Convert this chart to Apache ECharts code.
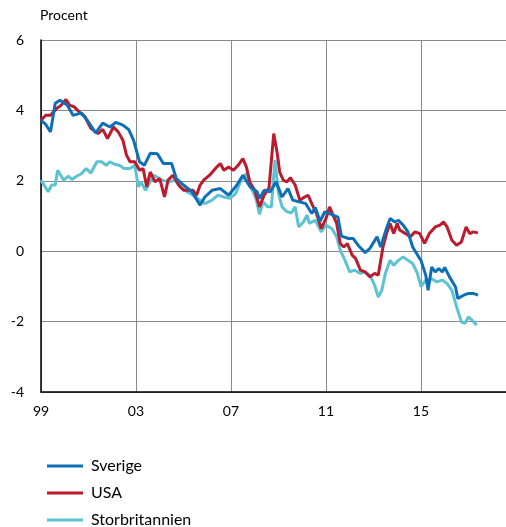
<!DOCTYPE html>
<html>
<head>
<meta charset="utf-8">
<script src="https://cdn.jsdelivr.net/npm/echarts@6/dist/echarts.min.js"></script>
<style>
  html, body { margin: 0; padding: 0; background: #fff; }
  #chart { width: 506px; height: 527px; }
</style>
</head>
<body>
<div id="chart"></div>
<script>
(function() {
    'use strict';

    // data (decimal year, procent)
    var sverigeYear = [1999.0, 1999.2, 1999.4, 1999.6, 1999.8, 2000.1, 2000.35, 2000.7, 2001.0, 2001.3, 2001.6, 2001.9,
        2002.15, 2002.45, 2002.7, 2002.9, 2003.15, 2003.35, 2003.6, 2003.9, 2004.15, 2004.5, 2004.7, 2005.0,
        2005.35, 2005.7, 2005.9, 2006.2, 2006.55, 2006.9, 2007.25, 2007.5, 2007.8, 2008.1, 2008.2, 2008.4,
        2008.65, 2008.9, 2009.15, 2009.4, 2009.6, 2009.9, 2010.15, 2010.4, 2010.55, 2010.75, 2010.95, 2011.25,
        2011.5, 2011.65, 2011.95, 2012.15, 2012.35, 2012.65, 2012.85, 2013.15, 2013.3, 2013.55, 2013.7, 2013.9,
        2014.05, 2014.25, 2014.45, 2014.65, 2014.9, 2015.0, 2015.2, 2015.3, 2015.45, 2015.6, 2015.75, 2015.9,
        2016.0, 2016.2, 2016.45, 2016.55, 2016.8, 2017.0, 2017.2, 2017.4];
    var sverigeValue = [3.72, 3.6, 3.39, 4.2, 4.29, 4.15, 3.86, 3.93, 3.67, 3.36, 3.64, 3.53,
        3.66, 3.58, 3.45, 3.15, 2.54, 2.44, 2.78, 2.77, 2.49, 2.49, 2.06, 1.88,
        1.69, 1.31, 1.54, 1.73, 1.78, 1.59, 1.88, 2.16, 1.83, 1.69, 1.5, 1.73,
        1.69, 1.97, 1.54, 1.78, 1.45, 1.4, 1.35, 1.07, 1.24, 0.85, 1.12, 1.04,
        0.97, 0.43, 0.36, 0.36, 0.17, -0.04, 0.08, 0.41, 0.12, 0.65, 0.93, 0.83,
        0.88, 0.74, 0.55, 0.12, -0.16, -0.26, -0.68, -1.11, -0.45, -0.59, -0.49, -0.59,
        -0.46, -0.73, -1.01, -1.34, -1.25, -1.2, -1.2, -1.25];

    var usaYear = [1999.0, 1999.2, 1999.4, 1999.65, 1999.85, 2000.05, 2000.2, 2000.4, 2000.6, 2000.85, 2001.1, 2001.4,
        2001.6, 2001.8, 2002.05, 2002.25, 2002.45, 2002.6, 2002.75, 2002.95, 2003.15, 2003.3, 2003.45, 2003.6,
        2003.8, 2004.0, 2004.2, 2004.35, 2004.55, 2004.8, 2005.0, 2005.2, 2005.4, 2005.55, 2005.7, 2005.85,
        2006.1, 2006.4, 2006.55, 2006.7, 2006.9, 2007.1, 2007.3, 2007.5, 2007.65, 2007.8, 2008.0, 2008.2,
        2008.4, 2008.6, 2008.8, 2008.95, 2009.05, 2009.2, 2009.35, 2009.5, 2009.7, 2009.9, 2010.1, 2010.25,
        2010.4, 2010.6, 2010.8, 2011.0, 2011.15, 2011.3, 2011.45, 2011.6, 2011.75, 2011.9, 2012.1, 2012.25,
        2012.45, 2012.65, 2012.85, 2013.05, 2013.2, 2013.4, 2013.55, 2013.7, 2013.85, 2014.0, 2014.1, 2014.35,
        2014.55, 2014.75, 2014.95, 2015.15, 2015.35, 2015.6, 2015.8, 2015.95, 2016.1, 2016.3, 2016.5, 2016.7,
        2016.9, 2017.05, 2017.2, 2017.4];
    var usaValue = [3.72, 3.86, 3.86, 4.05, 4.15, 4.31, 4.15, 4.1, 3.96, 3.82, 3.49, 3.34,
        3.46, 3.2, 3.53, 3.39, 3.15, 2.73, 2.54, 2.54, 2.3, 2.35, 1.83, 2.25,
        1.97, 2.06, 1.54, 2.02, 2.16, 1.88, 1.73, 1.73, 1.73, 1.59, 1.88, 2.02,
        2.16, 2.39, 2.49, 2.3, 2.39, 2.3, 2.44, 2.63, 2.39, 1.95, 1.73, 1.26,
        1.6, 1.8, 3.34, 2.77, 2.25, 2.02, 1.97, 2.09, 1.88, 1.45, 1.54, 1.59,
        1.35, 1.07, 0.64, 0.93, 1.26, 1.02, 0.79, 0.22, 0.12, 0.22, -0.11, -0.21,
        -0.54, -0.59, -0.73, -0.63, -0.68, 0.12, 0.5, 0.79, 0.5, 0.79, 0.6, 0.5,
        0.41, 0.55, 0.5, 0.22, 0.5, 0.69, 0.74, 0.83, 0.69, 0.31, 0.17, 0.26,
        0.69, 0.5, 0.55, 0.52];

    var ukYear = [1999.0, 1999.3, 1999.45, 1999.6, 1999.7, 1999.95, 2000.15, 2000.3, 2000.5, 2000.7, 2000.9, 2001.1,
        2001.35, 2001.55, 2001.75, 2001.9, 2002.1, 2002.3, 2002.5, 2002.75, 2002.95, 2003.1, 2003.2, 2003.4,
        2003.6, 2003.75, 2003.9, 2004.1, 2004.4, 2004.65, 2004.85, 2005.15, 2005.4, 2005.6, 2005.9, 2006.2,
        2006.45, 2006.7, 2006.95, 2007.2, 2007.45, 2007.65, 2007.85, 2008.05, 2008.2, 2008.35, 2008.55, 2008.7,
        2008.85, 2009.0, 2009.15, 2009.35, 2009.55, 2009.7, 2009.85, 2010.05, 2010.2, 2010.3, 2010.55, 2010.8,
        2011.0, 2011.25, 2011.45, 2011.6, 2011.8, 2012.0, 2012.2, 2012.45, 2012.65, 2012.85, 2013.05, 2013.2,
        2013.35, 2013.5, 2013.7, 2013.85, 2014.05, 2014.25, 2014.45, 2014.65, 2014.85, 2015.0, 2015.2, 2015.45,
        2015.65, 2015.9, 2016.1, 2016.3, 2016.5, 2016.7, 2016.85, 2017.0, 2017.15, 2017.35];
    var ukValue = [2.02, 1.69, 1.88, 1.88, 2.3, 2.02, 2.13, 2.04, 2.13, 2.2, 2.35, 2.22,
        2.54, 2.54, 2.44, 2.54, 2.47, 2.44, 2.35, 2.35, 2.44, 1.83, 1.97, 1.73,
        1.97, 2.16, 2.1, 2.02, 1.97, 2.02, 1.83, 1.69, 1.59, 1.5, 1.35, 1.45,
        1.59, 1.54, 1.5, 1.64, 2.06, 2.2, 1.8, 1.5, 1.05, 1.4, 1.26, 1.26,
        2.59, 1.64, 1.26, 1.12, 1.09, 1.26, 0.69, 0.83, 1.02, 0.79, 0.88, 0.55,
        0.74, 0.64, 0.41, 0.03, -0.26, -0.59, -0.54, -0.63, -0.59, -0.68, -0.97, -1.3,
        -1.11, -0.63, -0.26, -0.4, -0.26, -0.16, -0.26, -0.35, -0.63, -1.01, -0.82, -0.78,
        -0.87, -0.82, -0.92, -1.11, -1.58, -2.01, -2.05, -1.87, -1.96, -2.1];

    var legendNames = ['Sverige', 'USA', 'Storbritannien'];

    var startYear = 1999;
    var endYear = 2018.58;

    function pairs(years, values) {
        return years.map(function(y, i) {
            return [y - startYear, values[i]];
        });
    }

    var font = 'Lato, "Open Sans", sans-serif';

    // en legend per rad, annars bryter echarts upp den i kolumner
    var legends = legendNames.map(function(name, i) {
        return {
            orient: 'vertical',
            left: 42,
            top: 453 + i * 27,
            icon: 'rect',
            itemWidth: 36,
            itemHeight: 3,
            data: [name],
            textStyle: { fontSize: 16, color: '#000', fontFamily: font, padding: [0, 0, 0, 3] }
        };
    });

    var chart = echarts.init(document.getElementById('chart'));

    chart.setOption({
        animation: false,
        textStyle: { fontFamily: font },
        graphic: [{
            type: 'text',
            left: 40,
            top: 8,
            style: { text: 'Procent', fontSize: 14, fontFamily: font, fill: '#000' }
        }],
        grid: { left: 41, right: 0, top: 40, bottom: 135 },
        legend: legends,
        xAxis: {
            type: 'value',
            min: 0,
            max: endYear - startYear,
            interval: 4,
            axisLine: { show: true, onZero: false, lineStyle: { color: '#000', width: 1.5 } },
            axisTick: { show: false },
            axisLabel: {
                fontSize: 14,
                color: '#000',
                margin: 12,
                showMaxLabel: false,
                formatter: function(v) {
                    var y = (startYear + Math.round(v)) % 100;
                    return (y < 10 ? '0' : '') + y;
                }
            },
            splitLine: { show: true, lineStyle: { color: '#8a8a8a', width: 1 } }
        },
        yAxis: {
            type: 'value',
            min: -4,
            max: 6,
            interval: 2,
            axisLine: { show: true, lineStyle: { color: '#000', width: 1.5 } },
            axisTick: { show: false },
            axisLabel: { fontSize: 14, color: '#000', margin: 17 },
            splitLine: { show: true, lineStyle: { color: '#8a8a8a', width: 1 } }
        },
        series: [{
            name: 'Storbritannien',
            type: 'line',
            showSymbol: false,
            data: pairs(ukYear, ukValue),
            lineStyle: { width: 3, color: '#5cc3d3' },
            itemStyle: { color: '#5cc3d3' }
        }, {
            name: 'USA',
            type: 'line',
            showSymbol: false,
            data: pairs(usaYear, usaValue),
            lineStyle: { width: 3, color: '#bb1b2c' },
            itemStyle: { color: '#bb1b2c' }
        }, {
            name: 'Sverige',
            type: 'line',
            showSymbol: false,
            data: pairs(sverigeYear, sverigeValue),
            lineStyle: { width: 3, color: '#0f6fb6' },
            itemStyle: { color: '#0f6fb6' }
        }]
    });
})();
</script>
</body>
</html>
